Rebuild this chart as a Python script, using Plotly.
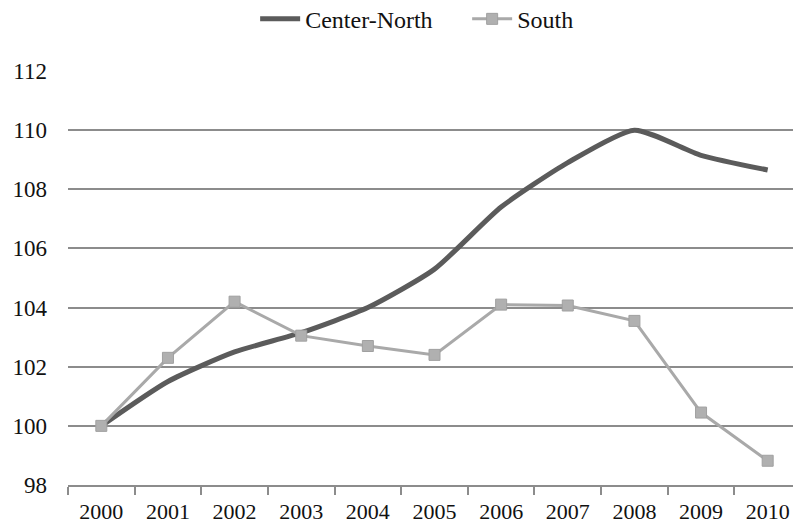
import plotly.graph_objects as go

years = ["2000", "2001", "2002", "2003", "2004", "2005", "2006", "2007", "2008", "2009", "2010"]
center_north = [100.0, 101.5, 102.5, 103.15, 104.0, 105.3, 107.4, 108.9, 110.0, 109.15, 108.65]
south = [100.0, 102.3, 104.2, 103.05, 102.7, 102.4, 104.1, 104.07, 103.55, 100.45, 98.82]
y_ticks = [98, 100, 102, 104, 106, 108, 110, 112]

FONT = "Liberation Serif, Times New Roman, serif"

fig = go.Figure()
fig.add_trace(go.Scatter(
    x=years, y=center_north, name="Center-North", mode="lines",
    line=dict(color="#5b5b5b", width=5, shape="spline", smoothing=0.6),
))
fig.add_trace(go.Scatter(
    x=years, y=south, name="South", mode="lines+markers",
    line=dict(color="#a9a9a9", width=3),
    marker=dict(symbol="square", size=11, color="#b0b0b0", line=dict(color="#a0a0a0", width=1)),
))

fig.update_layout(
    width=793, height=518,
    paper_bgcolor="white", plot_bgcolor="white",
    margin=dict(l=60, r=0, t=63, b=41, autoexpand=False),
    font=dict(family=FONT, size=23, color="#111111"),
    showlegend=True,
    legend=dict(orientation="h", xref="container", x=0.579, xanchor="center",
                yref="paper", y=1.125, yanchor="middle",
                font=dict(family=FONT, size=24), itemwidth=40,
                entrywidth=157, entrywidthmode="pixels",
                bgcolor="rgba(0,0,0,0)"),
    xaxis=dict(
        type="category", showgrid=False, showline=True, linecolor="#8c8c8c", linewidth=1.5,
        ticks="outside", tickson="boundaries", ticklen=8, tickcolor="#8c8c8c", tickwidth=1.5,
        tickfont=dict(family=FONT, size=22, color="#111111"), zeroline=False,
        range=[-0.5, 10.5], automargin=False, ticklabelstandoff=6,
    ),
    yaxis=dict(
        range=[98, 112], tickvals=y_ticks, showgrid=True, gridcolor="#8c8c8c", gridwidth=1.5,
        showline=False, zeroline=False, ticks="", ticklabelstandoff=20, automargin=False,
        tickfont=dict(family=FONT, size=23, color="#111111"),
    ),
)

fig.write_html("out.html")
